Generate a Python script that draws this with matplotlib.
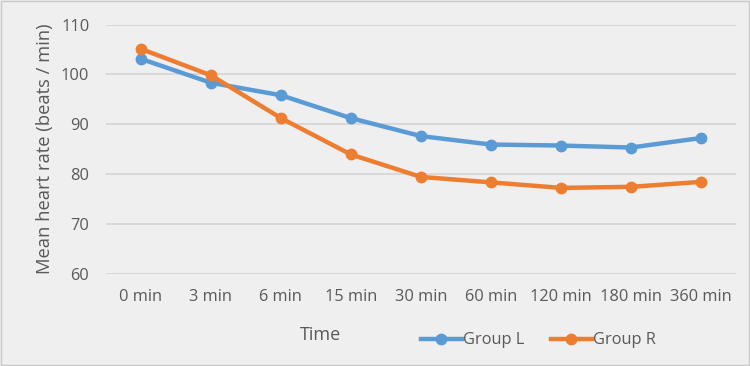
import numpy as np
import matplotlib.pyplot as plt

times = ['0 min', '3 min', '6 min', '15 min', '30 min', '60 min', '120 min', '180 min', '360 min']
group_l = [103.1, 98.3, 95.8, 91.2, 87.6, 85.9, 85.7, 85.3, 87.2]
group_r = [105.1, 99.8, 91.2, 83.9, 79.4, 78.3, 77.2, 77.4, 78.4]
yticks = [60, 70, 80, 90, 100, 110]

plt.rcParams['font.family'] = ['Open Sans', 'DejaVu Sans']
bg = '#efefef'
txt = '#595959'

fig = plt.figure(figsize=(7.5, 3.66), dpi=100, facecolor=bg)
ax = fig.add_axes([0.1413, 0.2527, 0.8397, 0.6803], facecolor=bg)

x = np.arange(len(times))
ax.plot(x, group_l, color='#5b9bd5', lw=3.2, marker='o', ms=7.5, label='Group L', clip_on=False, zorder=3)
ax.plot(x, group_r, color='#ed7d31', lw=3.2, marker='o', ms=7.5, label='Group R', clip_on=False, zorder=4)

ax.set_xlim(-0.5, len(times) - 0.5)
ax.set_ylim(60, 110)
ax.set_yticks(yticks)
ax.set_xticks(x)
ax.set_xticklabels(times)
ax.grid(axis='y', color='#d4d4d4', lw=1.2)
ax.set_axisbelow(True)
for s in ax.spines.values():
    s.set_visible(False)
ax.tick_params(length=0, colors=txt, labelsize=11.8)
ax.tick_params(axis='y', pad=12)
ax.tick_params(axis='x', pad=11)
ax.set_ylabel('Mean heart rate (beats / min)', color=txt, fontsize=13.2, labelpad=5)

fig.text(0.427, 0.085, 'Time', color=txt, fontsize=13, ha='center', va='center')
ax.legend(loc='center', bbox_to_anchor=(0.718, 0.07), bbox_transform=fig.transFigure,
          ncol=2, frameon=False, fontsize=11.8, labelcolor=txt, handlelength=2.5,
          handletextpad=0.1, columnspacing=1.6)

# thin frame around the whole picture
fig.patches.append(plt.Rectangle((0.001, 0.002), 0.997, 0.995, transform=fig.transFigure,
                                 fill=False, edgecolor='#c8c8c8', lw=1))

fig.savefig('out.png', dpi=100, facecolor=bg)
